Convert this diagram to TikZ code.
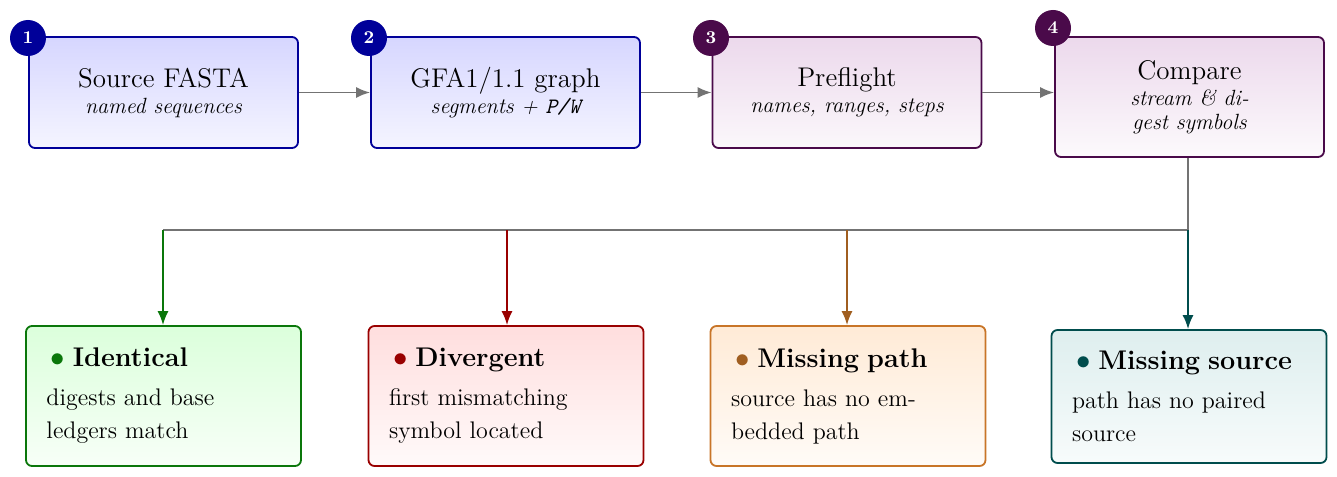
\documentclass[tikz,border=0pt]{standalone}
\usetikzlibrary{arrows.meta}
\begin{document}
\begin{tikzpicture}[x=0.5pt,y=-0.5pt,
  box/.style={rounded corners=3pt,line width=0.9pt,minimum width=134.5pt,minimum height=55.5pt,align=center,inner sep=2pt},
  bbox/.style={rounded corners=3pt,line width=0.9pt,minimum width=137.5pt,minimum height=70pt,text width=117pt,align=left,inner xsep=10.2pt,inner ysep=2pt,font=\fontsize{12}{16.5}\selectfont},
  badge/.style={circle,fill=#1,text=white,font=\bfseries\fontsize{9}{9}\selectfont,minimum size=18pt,inner sep=0pt},
  flow/.style={-{Latex[length=7pt,width=5.5pt]},line width=0.9pt,draw=gray!110},
]
\useasboundingbox (0,0) rectangle (1337,476);
\definecolor{pp}{HTML}{4A0A4A}
\definecolor{bb}{HTML}{000099}
\definecolor{gg}{HTML}{0A770A}
\definecolor{rr}{HTML}{990000}
\definecolor{oo}{HTML}{C87528}
\definecolor{tt}{HTML}{004D4D}
\newcommand{\ttl}[1]{{\fontsize{13.5}{16}\selectfont #1}}
\newcommand{\sub}[1]{{\itshape\fontsize{11}{15}\selectfont #1}}
\newcommand{\hd}[2]{\hspace*{2pt}{\Large\textcolor{#1}{$\bullet$}}\hspace{4pt}{\bfseries\fontsize{13.5}{16}\selectfont #2}}
% top row
\node[box,draw=bb,top color=blue!16,bottom color=blue!4] (s1) at (163.5,92.5)
  {\ttl{Source FASTA}\\[1pt]\sub{named sequences}};
\node[box,draw=bb,top color=blue!16,bottom color=blue!4] (s2) at (505.5,92.5)
  {\ttl{GFA1/1.1 graph}\\[1pt]\sub{segments + \texttt{P/W}}};
\node[box,draw=pp,top color=violet!15,bottom color=violet!3] (s3) at (847,92.5)
  {\ttl{Preflight}\\[1pt]\sub{names, ranges, steps}};
\node[box,draw=pp,top color=violet!15,bottom color=violet!2,minimum height=60pt] (s4) at (1189.5,97)
  {\ttl{Compare}\\[1pt]\sub{stream \& di-}\\\sub{gest symbols}};
\node[badge=bb] (b1) at (28,38) {1};
\node[badge=bb] (b2) at (369,38) {2};
\node[badge=pp] (b3) at (711,38) {3};
\node[badge=pp] (b4) at (1053,28) {4};
\draw[flow] (s1) -- (s2);
\draw[flow] (s2) -- (s3);
\draw[flow] (s3.east) -- (s3.east -| s4.west);
% bottom row
\node[bbox,draw=gg,top color=green!14,bottom color=green!3] (o1) at (163.5,396)
  {\hd{gg}{Identical}\\[3pt] digests and base\\ledgers match};
\node[bbox,draw=rr,top color=red!13,bottom color=red!2] (o2) at (506,396)
  {\hd{rr}{Divergent}\\[3pt] first mismatching\\symbol located};
\node[bbox,draw=oo,top color=orange!16,bottom color=orange!3] (o3) at (848,396)
  {\hd{oo!80!black}{Missing path}\\[3pt] source has no em-\\bedded path};
\node[bbox,draw=tt,top color=teal!13,bottom color=teal!3,minimum height=66.5pt] (o4) at (1189,396.5)
  {\hd{tt}{Missing source}\\[3pt] path has no paired\\source};
\coordinate (j) at (1188,230);
\coordinate (l) at (163,230);
\draw[line width=0.9pt,draw=gray!110] (s4.south -| j) -- (j) -- (l);
\draw[flow,draw=gg] (l) -- (o1.north -| l);
\draw[flow,draw=rr] (507,230) coordinate (m2) -- (o2.north -| m2);
\draw[flow,draw=oo!80!black] (847,230) coordinate (m3) -- (o3.north -| m3);
\draw[flow,draw=tt] (j) -- (o4.north -| j);
\end{tikzpicture}
\end{document}
